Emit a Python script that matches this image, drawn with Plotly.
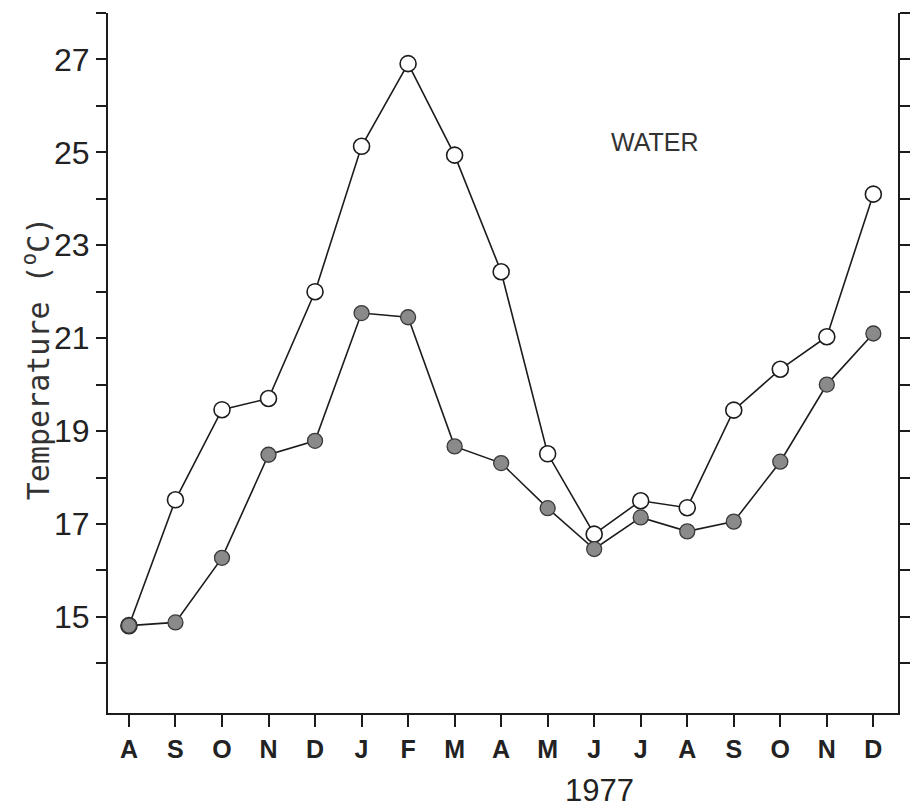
import plotly.graph_objects as go

# Monthly water temperature, Aug 1976 - Dec 1977
months = ["A", "S", "O", "N", "D", "J", "F", "M", "A", "M", "J", "J", "A", "S", "O", "N", "D"]
open_series = [14.81, 17.52, 19.46, 19.70, 22.00, 25.13, 26.91, 24.94, 22.43, 18.51,
               16.78, 17.50, 17.35, 19.45, 20.33, 21.03, 24.10]
filled_series = [14.81, 14.88, 16.27, 18.49, 18.79, 21.54, 21.45, 18.67, 18.31, 17.34,
                 16.46, 17.14, 16.84, 17.05, 18.34, 20.00, 21.10]

y_major = [15, 17, 19, 21, 23, 25, 27]
y_minor = [14, 16, 18, 20, 22, 24, 26, 28]

x_idx = list(range(len(months)))
ink = "#1c1c1c"

fig = go.Figure()

fig.add_trace(go.Scatter(
    x=x_idx, y=open_series, mode="lines+markers",
    line=dict(color=ink, width=1.6),
    marker=dict(symbol="circle", size=16, color="white",
                line=dict(color=ink, width=1.6)),
    showlegend=False, hoverinfo="skip",
))
fig.add_trace(go.Scatter(
    x=x_idx, y=filled_series, mode="lines+markers",
    line=dict(color=ink, width=1.6),
    marker=dict(symbol="circle", size=15, color="#8a8a8a",
                line=dict(color="#3a3a3a", width=1.3)),
    showlegend=False, hoverinfo="skip",
))

fig.update_layout(
    width=922, height=809,
    margin=dict(l=108, r=14, t=13, b=96),
    paper_bgcolor="white", plot_bgcolor="white",
    xaxis=dict(
        range=[-0.45, 16.53], tickvals=x_idx, ticktext=months,
        showgrid=False, zeroline=False,
        showline=True, linecolor=ink, linewidth=2,
        ticks="outside", ticklen=12, tickwidth=2, tickcolor=ink,
        tickfont=dict(family="Liberation Sans", size=25, color="#222", weight="bold"),
        ticklabelstandoff=1,
    ),
    yaxis=dict(
        range=[12.93, 28.0], tickvals=y_major,
        showgrid=False, zeroline=False,
        showline=True, linecolor=ink, linewidth=2, mirror="ticks",
        ticks="outside", ticklen=10, tickwidth=2, tickcolor=ink,
        tickfont=dict(family="Liberation Sans", size=32, color="#222"),
        minor=dict(tickvals=y_minor, ticks="outside", ticklen=10,
                   tickwidth=2, tickcolor=ink, showgrid=False),
    ),
    annotations=[
        dict(text="1977", xref="paper", yref="paper", x=0.6225, y=-0.111,
             xanchor="center", yanchor="middle", showarrow=False,
             font=dict(family="Liberation Sans", size=31, color="#222")),
        dict(text="WATER", xref="paper", yref="paper", x=0.6925, y=0.816,
             xanchor="center", yanchor="middle", showarrow=False,
             font=dict(family="Liberation Sans", size=25, color="#333")),
        dict(text="Temperature (<sup>o</sup>C)", xref="paper", yref="paper",
             x=-0.091, y=0.507, textangle=-90,
             xanchor="center", yanchor="middle", showarrow=False,
             font=dict(family="DejaVu Sans Mono", size=30, color="#333")),
    ],
)

fig.write_html("out.html")
